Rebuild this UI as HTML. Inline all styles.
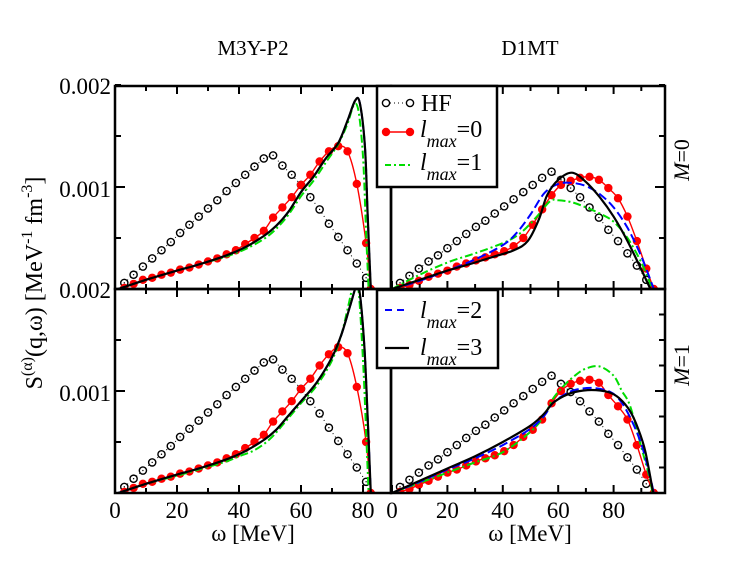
<!DOCTYPE html>
<html><head><meta charset="utf-8"><style>
html,body{margin:0;padding:0;background:#fff;}
svg, svg text, svg tspan{font-family:"Liberation Serif","Times New Roman",Times,"DejaVu Serif",serif;}
</style></head><body>
<svg id="chart" width="752" height="581" viewBox="0 0 752 581" xmlns="http://www.w3.org/2000/svg" font-family="Liberation Serif, Times New Roman, DejaVu Serif, serif">
<defs>
<clipPath id="c-tl"><rect x="115" y="86" width="276" height="203"/></clipPath>
<clipPath id="c-tr"><rect x="391" y="86" width="274" height="203"/></clipPath>
<clipPath id="c-bl"><rect x="115" y="289" width="276" height="204"/></clipPath>
<clipPath id="c-br"><rect x="391" y="289" width="274" height="204"/></clipPath>
</defs>
<text x="253" y="55" font-size="21" text-anchor="middle">M3Y-P2</text>
<text x="530" y="55" font-size="21" text-anchor="middle">D1MT</text>
<text transform="translate(42,283) rotate(-90)" font-size="24" text-anchor="middle">S<tspan font-size="16" dy="-10">(α)</tspan><tspan dy="10">(q,ω) [MeV</tspan><tspan font-size="16" dy="-10">-1</tspan><tspan dy="10"> fm</tspan><tspan font-size="16" dy="-10">-3</tspan><tspan dy="10">]</tspan></text>
<text x="253" y="541" font-size="23" text-anchor="middle">ω [MeV]</text>
<text x="530" y="541" font-size="23" text-anchor="middle">ω [MeV]</text>
<text transform="translate(689,160) rotate(-90)" font-size="22" text-anchor="middle"><tspan font-style="italic">M</tspan>=0</text>
<text transform="translate(689,365) rotate(-90)" font-size="22" text-anchor="middle"><tspan font-style="italic">M</tspan>=1</text>
<g id="plots"></g>
</svg>
<script>
// ---- data (values in units of 1e-3 MeV^-1 fm^-3) ----
const hfLeftW = [3,6,9,12,15,18,21,24,27,30,33,36,39,42,45,48,51,54,57,60,63,66,69,72,75,78,81];
const hfLeftV = [0.06,0.14,0.22,0.30,0.38,0.46,0.55,0.63,0.71,0.79,0.87,0.96,1.04,1.12,1.20,1.28,1.31,1.21,1.12,1.02,0.90,0.78,0.64,0.51,0.38,0.25,0.11];
const redLeftW = [3,6,9,12,15,18,21,24,27,30,33,36,39,42,45,48,51,54,57,60,63,66,69,72,75,78,81,82.5];
const redTLV = [0.01,0.05,0.09,0.11,0.14,0.16,0.19,0.21,0.24,0.27,0.30,0.34,0.38,0.44,0.50,0.57,0.70,0.80,0.90,1.02,1.12,1.25,1.35,1.40,1.35,1.03,0.45,0];
const redBLV = [0.01,0.05,0.09,0.11,0.14,0.16,0.19,0.21,0.24,0.27,0.30,0.34,0.38,0.44,0.50,0.57,0.70,0.80,0.90,1.02,1.12,1.25,1.36,1.43,1.37,1.04,0.50,0];
const blkTLW = [1,10,20,27,36,42,48,52,56,60,64,68,72,75,77.5,79,80.6,81.5,82.5];
const blkTLV = [0,0.09,0.18,0.24,0.33,0.41,0.52,0.62,0.76,0.95,1.10,1.28,1.43,1.65,1.85,1.82,1.40,0.74,0];
const grnTLW = [1,10,20,27,36,42,48,52,56,60,64,68,72,75,77,78.5,80,81,81.8];
const grnTLV = [0,0.09,0.18,0.24,0.32,0.39,0.49,0.59,0.73,0.91,1.06,1.24,1.42,1.62,1.80,1.75,1.30,0.55,0];
const blkBLW = [1,10,20,27,36,42,48,52,56,60,65,70,73,76,77.8,79,80.5,81.5,82.5];
const blkBLV = [0,0.09,0.18,0.24,0.33,0.41,0.52,0.62,0.76,0.90,1.08,1.33,1.55,1.85,2.02,1.95,1.40,0.75,0];
const grnBLW = [1,10,20,27,36,40,45,50,55,60,65,70,73,75,77,78.5,80,81,81.8];
const grnBLV = [0,0.09,0.17,0.23,0.31,0.36,0.42,0.53,0.70,0.88,1.05,1.30,1.55,1.80,2.05,2.00,1.30,0.60,0];
const hfRightW = [2.9,6.3,9.7,13.2,16.6,20,23.4,26.8,30.3,33.7,37.1,40.5,43.9,47.4,50.8,54.2,57.6,61,64.5,67.9,71.3,74.7,78.1,81.6,85,88.4,91.8];
const hfRightV = [0.06,0.13,0.20,0.27,0.33,0.40,0.47,0.54,0.61,0.67,0.74,0.81,0.88,0.95,1.02,1.09,1.15,1.07,0.99,0.90,0.80,0.70,0.58,0.47,0.35,0.23,0.09];
const redRightW = [2.9,6.3,9.7,13.2,16.6,20,23.4,26.8,30.3,33.7,37.1,40.5,43.9,47.4,50.8,54.2,57.6,61,64.5,67.9,71.3,74.7,78.1,81.6,85,88.4,91.8,94.5];
const redTRV = [0.01,0.04,0.08,0.12,0.15,0.18,0.22,0.25,0.28,0.31,0.34,0.37,0.42,0.50,0.63,0.78,0.92,1.02,1.06,1.09,1.10,1.07,0.99,0.89,0.71,0.47,0.20,0];
const redBRV = [0.01,0.04,0.08,0.12,0.16,0.20,0.23,0.27,0.31,0.34,0.37,0.41,0.47,0.55,0.62,0.72,0.88,1.00,1.07,1.10,1.11,1.08,0.96,0.85,0.72,0.47,0.18,0];
const blkTRW = [0,10,20,30,37,44,49,53,56,60,65,70,75,80,85,89.5,93.3];
const blkTRV = [0,0.09,0.18,0.26,0.32,0.38,0.47,0.68,0.92,1.07,1.14,1.05,0.90,0.71,0.47,0.22,0];
const bluTRW = [0,10,20,30,40,45,50,55,60,65,70,75,80,85,90,94.5];
const bluTRV = [0,0.08,0.18,0.29,0.43,0.55,0.73,0.94,1.03,1.04,1.01,0.93,0.80,0.60,0.32,0];
const grnTRW = [0,10,20,30,40,46,52,57,60,65,70,75,80,85,90,94];
const grnTRV = [0,0.14,0.26,0.35,0.45,0.54,0.70,0.86,0.87,0.85,0.80,0.74,0.66,0.50,0.26,0];
const blkBRW = [0,10,20,30,40,50,55,58,62,66,72,78,82,86,89,91.5,94.3];
const blkBRV = [0,0.12,0.24,0.36,0.50,0.66,0.78,0.88,0.95,0.99,1.01,0.99,0.93,0.80,0.62,0.40,0];
const bluBRW = [0,10,20,30,40,50,55,58,62,66,72,78,82,86,90,93,94.5];
const bluBRV = [0,0.11,0.23,0.34,0.47,0.63,0.76,0.88,0.96,1.01,1.03,1.00,0.92,0.74,0.48,0.18,0];
const grnBRW = [0,10,20,30,40,50,55,58,62,66,70,75,80,83,86,90,93,94];
const grnBRV = [0,0.10,0.20,0.30,0.40,0.60,0.76,0.92,1.05,1.15,1.22,1.24,1.15,1.00,0.85,0.45,0.15,0];
const xTickLabels = ["0","20","40","60","80"];
const yTickLabels = ["0.002","0.001"];

const FONT = 'Liberation Serif, Times New Roman, DejaVu Serif, serif';
const NS = "http://www.w3.org/2000/svg";
const plots = document.getElementById('plots');
const panels = {
  tl:{x0:115,sx:3.1,y0:289,sy:102,clip:'c-tl'},
  tr:{x0:392,sx:2.77,y0:289,sy:102,clip:'c-tr'},
  bl:{x0:115,sx:3.1,y0:493,sy:102,clip:'c-bl'},
  br:{x0:392,sx:2.77,y0:493,sy:102,clip:'c-br'}
};
function px(p,w){return p.x0+p.sx*w;}
function py(p,v){return p.y0-p.sy*v;}
function mk(tag,attrs,parent){const e=document.createElementNS(NS,tag);for(const k in attrs)e.setAttribute(k,attrs[k]);if(tag==='text'){e.setAttribute('font-family',FONT);}(parent||plots).appendChild(e);return e;}
function smoothPath(pts){
  let d='M'+pts[0][0].toFixed(1)+','+pts[0][1].toFixed(1);
  for(let i=0;i<pts.length-1;i++){
    const p0=pts[Math.max(i-1,0)],p1=pts[i],p2=pts[i+1],p3=pts[Math.min(i+2,pts.length-1)];
    const c1=[p1[0]+(p2[0]-p0[0])/6,p1[1]+(p2[1]-p0[1])/6];
    const c2=[p2[0]-(p3[0]-p1[0])/6,p2[1]-(p3[1]-p1[1])/6];
    d+=' C'+c1[0].toFixed(1)+','+c1[1].toFixed(1)+' '+c2[0].toFixed(1)+','+c2[1].toFixed(1)+' '+p2[0].toFixed(1)+','+p2[1].toFixed(1);
  }
  return d;
}
function line(key,W,V,style,name){
  const p=panels[key];
  const g=mk('g',{'clip-path':'url(#'+p.clip+')'});
  
  
  const pts=W.map((w,i)=>[px(p,w),py(p,V[i])]);
  const path=mk('path',Object.assign({d:smoothPath(pts),fill:'none'},style),g);
  
  
  return {g,pts};
}
function hf(key,W,V,name){
  const p=panels[key];
  const g=mk('g',{'clip-path':'url(#'+p.clip+')'});
  
  
  const pts=W.map((w,i)=>[px(p,w),py(p,V[i])]);
  mk('polyline',{points:pts.map(q=>q.join(',')).join(' '),fill:'none',stroke:'#000','stroke-width':1,'stroke-dasharray':'1,3'},g);
  pts.forEach(q=>{
    const c=mk('circle',{cx:q[0],cy:q[1],r:3.6,fill:'#fff',stroke:'#000','stroke-width':1.4},g);
    
    
    mk('circle',{cx:q[0],cy:q[1],r:0.7,fill:'#000'},g);
  });
}
function red(key,W,V,name){
  const r=line(key,W,V,{stroke:'#f00','stroke-width':1.4},name);
  r.pts.forEach(q=>{
    const c=mk('circle',{cx:q[0],cy:q[1],r:4.2,fill:'#f00'},r.g);
    
    
  });
}
const gS={stroke:'#0d0','stroke-width':2,'stroke-dasharray':'8,3,2,3'}, bS={stroke:'#00f','stroke-width':2,'stroke-dasharray':'9,4'}, kS={stroke:'#000','stroke-width':2.2};

hf('tl',hfLeftW,hfLeftV,'hf-m3y-m0');
red('tl',redLeftW,redTLV,'lmax0-m3y-m0');
line('tl',grnTLW,grnTLV,gS,'lmax1-m3y-m0');
line('tl',blkTLW,blkTLV,bS,'lmax2-m3y-m0');
line('tl',blkTLW,blkTLV,kS,'lmax3-m3y-m0');
hf('bl',hfLeftW,hfLeftV,'hf-m3y-m1');
red('bl',redLeftW,redBLV,'lmax0-m3y-m1');
line('bl',grnBLW,grnBLV,gS,'lmax1-m3y-m1');
line('bl',blkBLW,blkBLV,bS,'lmax2-m3y-m1');
line('bl',blkBLW,blkBLV,kS,'lmax3-m3y-m1');
hf('tr',hfRightW,hfRightV,'hf-d1mt-m0');
red('tr',redRightW,redTRV,'lmax0-d1mt-m0');
line('tr',grnTRW,grnTRV,gS,'lmax1-d1mt-m0');
line('tr',bluTRW,bluTRV,bS,'lmax2-d1mt-m0');
line('tr',blkTRW,blkTRV,kS,'lmax3-d1mt-m0');
hf('br',hfRightW,hfRightV,'hf-d1mt-m1');
red('br',redRightW,redBRV,'lmax0-d1mt-m1');
line('br',grnBRW,grnBRV,gS,'lmax1-d1mt-m1');
line('br',bluBRW,bluBRV,bS,'lmax2-d1mt-m1');
line('br',blkBRW,blkBRV,kS,'lmax3-d1mt-m1');

function xticks(key,maxW,top,bot,labels){
  const p=panels[key];
  for(let w=0;w<=maxW;w+=10){
    const x=px(p,w), L=(w%20===0)?8:5;
    mk('line',{x1:x,y1:bot,x2:x,y2:bot-L,stroke:'#000','stroke-width':2});
    mk('line',{x1:x,y1:top,x2:x,y2:top+L,stroke:'#000','stroke-width':2});
  }
  if(labels){
    for(let i=0;i<xTickLabels.length;i++){
      const t=mk('text',{x:px(p,+xTickLabels[i]),y:518,'font-size':23,'text-anchor':'middle'});
      t.textContent=xTickLabels[i];
      
      
    }
  }
}
xticks('tl',88,86,289,false); xticks('bl',88,289,493,true);
xticks('tr',98,86,289,false); xticks('br',98,289,493,true);
function yticks(key,xEdge,dir,step){
  const p=panels[key];
  for(let v=0;v<=2.001;v+=step){
    const y=py(p,v), L=(Math.abs(v-1)<1e-6)?10:6;
    mk('line',{x1:xEdge,y1:y,x2:xEdge+dir*L,y2:y,stroke:'#000','stroke-width':2});
  }
}
yticks('tl',115,1,0.5); yticks('bl',115,1,0.5);
yticks('tr',665,-1,0.5); yticks('br',665,-1,0.25);
[[86,0],[189,1],[290,0],[393,1]].forEach(a=>{
  const t=mk('text',{x:111,y:a[0]+8,'font-size':23,'text-anchor':'end'});
  t.textContent=yTickLabels[a[1]];
  
  
});

[['frame-tl',115,86,276,203],['frame-tr',391,86,274,203],['frame-bl',115,289,276,204],['frame-br',391,289,274,204]].forEach(f=>{
  const r=mk('rect',{x:f[1],y:f[2],width:f[3],height:f[4],fill:'none',stroke:'#000','stroke-width':2.5});
  
  
});

function legendBox(name,x,y,w,h){
  const r=mk('rect',{x:x,y:y,width:w,height:h,fill:'#fff',stroke:'#000','stroke-width':2.5});
  
  
}
function lmaxText(x,y,n,name){
  const t=mk('text',{x:x,y:y,'font-size':24});
  
  
  t.innerHTML='<tspan font-style="italic">l</tspan><tspan font-style="italic" font-size="18" dy="10">max</tspan><tspan dy="-10">='+n+'</tspan>';
}
legendBox('legend-top',377,86,120,101);
let g=mk('g',{});  
mk('line',{x1:386,y1:103,x2:410,y2:103,stroke:'#000','stroke-width':1,'stroke-dasharray':'1,3'},g);
mk('circle',{cx:386,cy:103,r:3.6,fill:'#fff',stroke:'#000','stroke-width':1.4},g);
mk('circle',{cx:410,cy:103,r:3.6,fill:'#fff',stroke:'#000','stroke-width':1.4},g);
let t=mk('text',{x:421,y:111,'font-size':24},g); t.textContent='HF';
mk('line',{x1:386,y1:132,x2:410,y2:132,stroke:'#f00','stroke-width':1.4});
mk('circle',{cx:386,cy:132,r:4.2,fill:'#f00'}); mk('circle',{cx:410,cy:132,r:4.2,fill:'#f00'});
lmaxText(420,137,0,'legend-entry-lmax0');
mk('line',{x1:385,y1:165,x2:411,y2:165,stroke:'#0d0','stroke-width':2,'stroke-dasharray':'6,3,2,3'});
lmaxText(420,170,1,'legend-entry-lmax1');
legendBox('legend-bottom',377,290,121,78);
mk('line',{x1:385,y1:310,x2:409,y2:310,stroke:'#00f','stroke-width':2,'stroke-dasharray':'7,5'});
lmaxText(420,318,2,'legend-entry-lmax2');
mk('line',{x1:385,y1:348,x2:409,y2:348,stroke:'#000','stroke-width':2.2});
lmaxText(420,355,3,'legend-entry-lmax3');
</script>
</body></html>
